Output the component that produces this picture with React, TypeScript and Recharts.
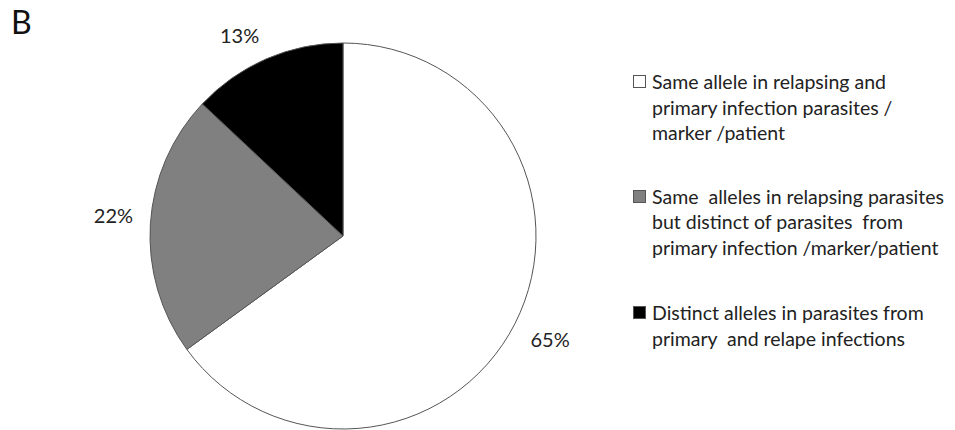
import React from 'react';
import { PieChart, Pie, Cell, Legend } from 'recharts';

const categories = [
  'Same allele in relapsing and primary infection parasites / marker /patient',
  'Same  alleles in relapsing parasites but distinct of parasites  from primary infection /marker/patient',
  'Distinct alleles in parasites from primary  and relape infections',
];
const shares = [65, 22, 13];
const legendLines = [
  ['Same allele in relapsing and', 'primary infection parasites /', 'marker /patient'],
  ['Same  alleles in relapsing parasites', 'but distinct of parasites  from', 'primary infection /marker/patient'],
  ['Distinct alleles in parasites from', 'primary  and relape infections'],
];
const fills = ['#ffffff', '#808080', '#000000'];

const data = categories.map((name, i) => ({ name, value: shares[i] }));

const FONT = 'Lato, "Open Sans", sans-serif';
const RAD = Math.PI / 180;

// "outside end" label: the text box corner sits just off the rim at mid angle
const renderLabel = ({ cx, cy, midAngle, outerRadius, value }: any) => {
  const r = outerRadius + 17;
  const c = Math.cos(-midAngle * RAD);
  const s = Math.sin(-midAngle * RAD);
  const x = cx + r * c + 20 * Math.sign(c);
  const y = cy + r * s + 8 * Math.sign(s);
  return (
    <text x={x} y={y} textAnchor="middle" dominantBaseline="central" fill="#222" fontSize={20} fontFamily={FONT}>
      {value}%
    </text>
  );
};

const LegendBox = () => (
  <div style={{ fontFamily: FONT, fontSize: 19.5, color: '#222', lineHeight: '25.5px' }}>
    {legendLines.map((lines, i) => (
      <div key={i} style={{ position: 'relative', paddingLeft: 20, marginBottom: i === 0 ? 38 : 40 }}>
        <span
          style={{
            position: 'absolute',
            left: 1,
            top: 6,
            width: 11,
            height: 11,
            background: fills[i],
            border: '1px solid #555',
          }}
        />
        {lines.map((l, j) => (
          <div key={j} style={{ whiteSpace: 'pre' }}>{l}</div>
        ))}
      </div>
    ))}
  </div>
);

export default function App() {
  return (
    <div style={{ position: 'relative', width: 955, height: 430, background: '#fff' }}>
      <style>{`body{margin:0}`}</style>
      <div style={{ position: 'absolute', left: 11, top: 2, fontFamily: FONT, fontSize: 32, color: '#111' }}>B</div>
      <PieChart width={955} height={430} margin={{ top: 0, right: 0, bottom: 0, left: 0 }}>
        <Pie
          data={data}
          dataKey="value"
          cx={343}
          cy={236}
          outerRadius={193}
          startAngle={90}
          endAngle={-270}
          stroke="#555"
          strokeWidth={1}
          label={renderLabel}
          labelLine={false}
          isAnimationActive={false}
        >
          {data.map((d, i) => (
            <Cell key={d.name} fill={fills[i]} />
          ))}
        </Pie>
        <Legend
          content={<LegendBox />}
          wrapperStyle={{ position: 'absolute', left: 632, top: 69, width: 323 }}
        />
      </PieChart>
    </div>
  );
}
